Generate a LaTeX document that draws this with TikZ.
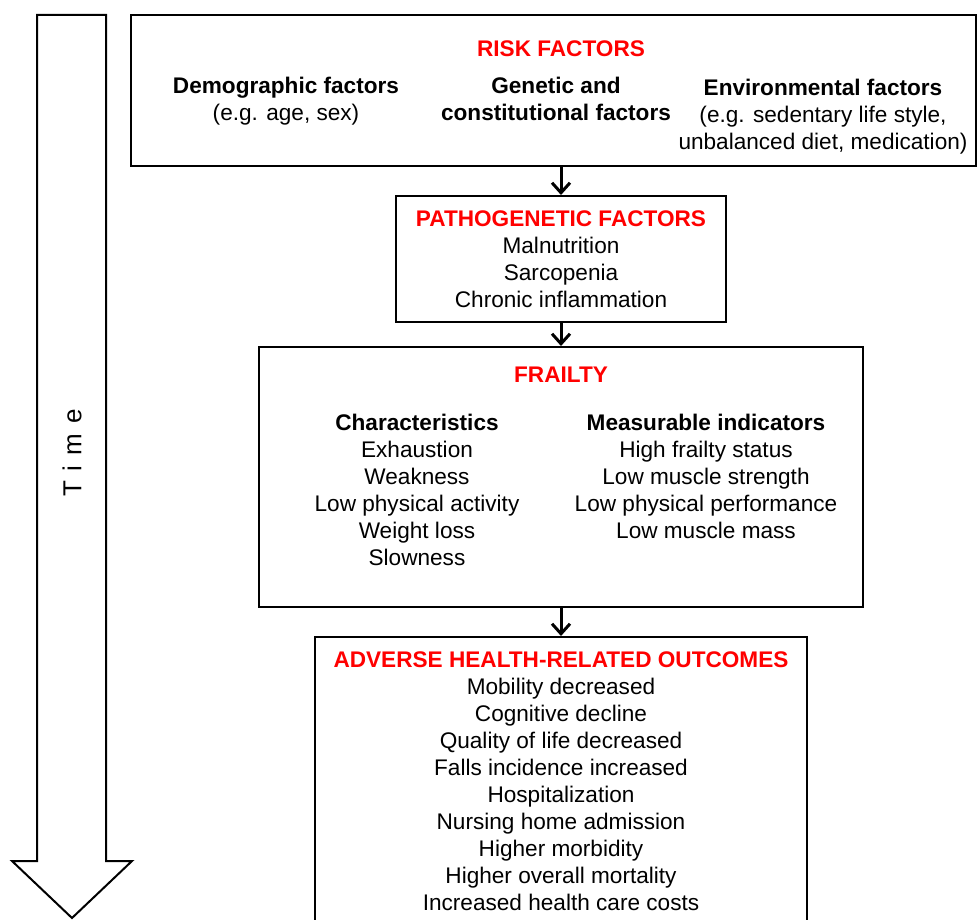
\documentclass[tikz,border=0pt]{standalone}
\usepackage{fontspec}
\setmainfont{Liberation Sans}
\usetikzlibrary{arrows.meta}
\definecolor{headred}{RGB}{255,0,0}

\begin{document}
\begin{tikzpicture}[x=1pt, y=-1pt,
    box/.style={draw, line width=2pt, inner sep=0pt},
    txt/.style={align=center, font=\fontsize{22.6}{27}\selectfont},
    head/.style={align=center, text=headred, font=\fontsize{22.6}{27}\selectfont\bfseries},
    flow/.style={line width=3pt, -{Straight Barb[length=10pt, width=18pt]}}]
  \clip (0,0) rectangle (977,920);
  \useasboundingbox (0,0) rectangle (977,920);

  % time arrow
  \draw[line width=2pt, line join=miter] (37,15) -- (106,15) -- (106,861) -- (132,861)
    -- (72,918) -- (12,861) -- (37,861) -- cycle;
  \node[txt, font=\fontsize{26}{30}\selectfont, rotate=90] (time) at (72,453)
    {T\hspace{10pt}i\hspace{10pt}m\hspace{10pt}e};

  % boxes
  \node[box, minimum width=845pt, minimum height=151pt] (risk)     at (553.5,90.5) {};
  \node[box, minimum width=330pt, minimum height=126pt] (patho)    at (561,259) {};
  \node[box, minimum width=604pt, minimum height=260pt] (frailty)  at (561,477) {};
  \node[box, minimum width=492pt, minimum height=300pt] (outcomes) at (561,787) {};

  % risk factors
  \node[head] (riskhead) at (561,49) {RISK FACTORS};
  \node[txt] (demo)    at (286,101.5) {\textbf{Demographic factors}\\(e.g. age, sex)};
  \node[txt] (genetic) at (556,99) {\textbf{Genetic and}\\\textbf{constitutional factors}};
  \node[txt] (environ) at (823,116.5) {\textbf{Environmental factors}\\(e.g. sedentary life style,\\unbalanced diet, medication)};

  % pathogenetic factors
  \node[head] (pathohead) at (561,219) {PATHOGENETIC FACTORS};
  \node[txt] (pathotext) at (561,272.5) {Malnutrition\\Sarcopenia\\Chronic inflammation};

  % frailty
  \node[head] (frailhead) at (561,375) {FRAILTY};
  \node[txt] (charact) at (417,490) {\textbf{Characteristics}\\Exhaustion\\Weakness\\Low physical activity\\Weight loss\\Slowness};
  \node[txt] (indic) at (706,476.5) {\textbf{Measurable indicators}\\High frailty status\\Low muscle strength\\Low physical performance\\Low muscle mass};

  % outcomes
  \node[head] (outhead) at (561,660) {ADVERSE HEALTH-RELATED OUTCOMES};
  \node[txt] (outtext) at (561,794.5) {Mobility decreased\\Cognitive decline\\Quality of life decreased\\Falls incidence increased\\Hospitalization\\Nursing home admission\\Higher morbidity\\Higher overall mortality\\Increased health care costs};

  \draw[flow] (patho.north |- risk.south) -- (patho.north);
  \draw[flow] (patho) -- (frailty);
  \draw[flow] (frailty) -- (outcomes);
\end{tikzpicture}
\end{document}
